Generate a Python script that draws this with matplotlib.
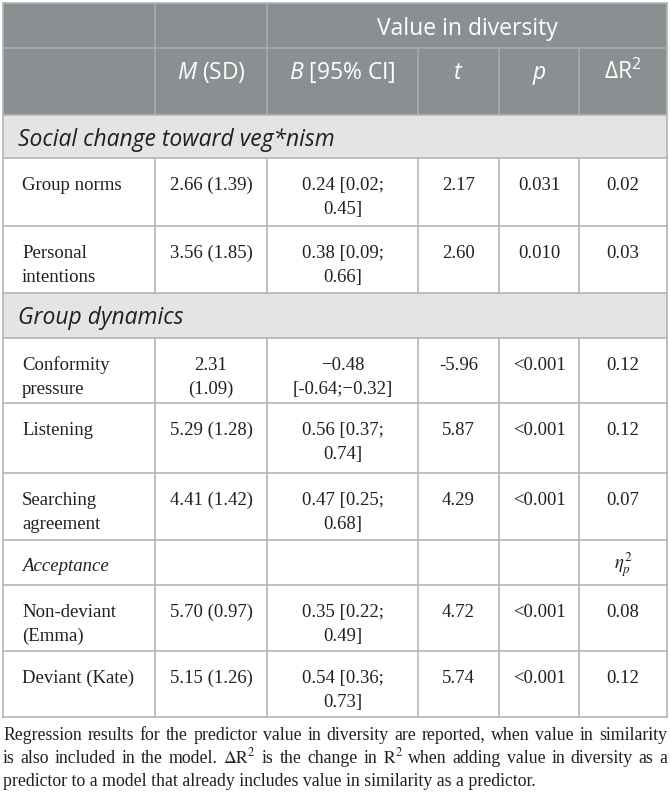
import matplotlib.pyplot as plt
from matplotlib.patches import Rectangle

plt.rcParams['mathtext.fontset'] = 'custom'
plt.rcParams['mathtext.rm'] = 'Open Sans'
plt.rcParams['mathtext.it'] = 'Open Sans:italic'

# table content
top_header = "Value in diversity"
col_heads = ["", "$M$ (SD)", "$B$ [95% CI]", "$t$", "$p$", r"Δ$\mathrm{R}^2$"]
sections = ["Social change toward veg*nism", "Group dynamics"]
sub_heading = "Acceptance"
sub_stat = r"$\eta_p^2$"

labels = [["Group norms"], ["Personal", "intentions"], ["Conformity", "pressure"],
          ["Listening"], ["Searching", "agreement"], ["Non-deviant", "(Emma)"],
          ["Deviant (Kate)"]]
means = [["2.66 (1.39)"], ["3.56 (1.85)"], ["2.31", "(1.09)"], ["5.29 (1.28)"],
         ["4.41 (1.42)"], ["5.70 (0.97)"], ["5.15 (1.26)"]]
b_ci = [["0.24 [0.02;", "0.45]"], ["0.38 [0.09;", "0.66]"], ["\u22120.48", "[-0.64;\u22120.32]"],
        ["0.56 [0.37;", "0.74]"], ["0.47 [0.25;", "0.68]"], ["0.35 [0.22;", "0.49]"],
        ["0.54 [0.36;", "0.73]"]]
t_vals = ["2.17", "2.60", "-5.96", "5.87", "4.29", "4.72", "5.74"]
p_vals = ["0.031", "0.010", "<0.001", "<0.001", "<0.001", "<0.001", "<0.001"]
dr2_vals = ["0.02", "0.03", "0.12", "0.12", "0.07", "0.08", "0.12"]

footnote = [
    "Regression results for the predictor value in diversity are reported, when value in similarity",
    r"is also included in the model. $\Delta\mathrm{R}^2$ is the change in $\mathrm{R}^2$ when adding value in diversity as a",
    "predictor to a model that already includes value in similarity as a predictor.",
]

# row order of the body: section, data row, sub heading
layout = [("sec", 0), ("row", 0), ("row", 1), ("sec", 1), ("row", 2), ("row", 3),
          ("row", 4), ("sub", None), ("row", 5), ("row", 6)]

col_x = [3, 155, 267, 418, 499, 579, 667]
row_y = [3, 48, 115, 158, 226, 293, 338, 403, 473, 540, 585, 651, 717]

head_bg = "#8a8f91"
head_line = "#a9adaf"
sec_bg = "#e3e4e4"
grid = "#b5b5b5"
ink = "#231f20"

fig = plt.figure(figsize=(6.7, 7.97), dpi=100)
ax = fig.add_axes([0, 0, 1, 1])
ax.set_xlim(0, 670)
ax.set_ylim(797, 0)
ax.axis("off")

serif = "Liberation Serif"
sans = "Open Sans"
body_fs = 13.5
head_fs = 16.5
foot_fs = 12.8

# header block
ax.add_patch(Rectangle((col_x[0], row_y[0]), col_x[-1] - col_x[0], row_y[2] - row_y[0],
                       facecolor=head_bg, edgecolor="none", zorder=0))
ax.plot([col_x[0], col_x[-1]], [row_y[1], row_y[1]], color=head_line, lw=1.2)
for x in col_x[1:3]:
    ax.plot([x, x], [row_y[0], row_y[2]], color=head_line, lw=1.2)
for x in col_x[3:6]:
    ax.plot([x, x], [row_y[1], row_y[2]], color=head_line, lw=1.2)
ax.text((col_x[2] + col_x[-1]) / 2, row_y[0] + 32, top_header, color="white",
        fontsize=head_fs, family=sans, ha="center", va="baseline")
for i, h in enumerate(col_heads):
    if h:
        ax.text((col_x[i] + col_x[i + 1]) / 2, row_y[1] + 31, h, color="white",
                fontsize=head_fs, family=sans, ha="center", va="baseline")

# body rows
for k, (kind, idx) in enumerate(layout):
    top = row_y[k + 2]
    bot = row_y[k + 3]
    if kind == "sec":
        ax.add_patch(Rectangle((col_x[0], top), col_x[-1] - col_x[0], bot - top,
                               facecolor=sec_bg, edgecolor="none", zorder=0))
        ax.text(col_x[0] + 15, top + 31, sections[idx], color=ink, fontsize=head_fs,
                family=sans, style="italic", va="baseline")
        continue
    for x in col_x[1:-1]:
        ax.plot([x, x], [top, bot], color=grid, lw=1.2)
    if kind == "sub":
        ax.text(col_x[0] + 19, top + 31, sub_heading, color=ink, fontsize=body_fs,
                family=serif, style="italic", va="baseline")
        ax.text((col_x[5] + col_x[6]) / 2, top + 29, sub_stat, color=ink, fontsize=body_fs,
                math_fontfamily="stix", ha="center", va="baseline")
        continue
    cells = [labels[idx], means[idx], b_ci[idx], [t_vals[idx]], [p_vals[idx]], [dr2_vals[idx]]]
    for c, lines in enumerate(cells):
        for j, line in enumerate(lines):
            y = top + 32 + 24 * j
            if c == 0:
                ax.text(col_x[0] + 19, y, line, color=ink, fontsize=body_fs, family=serif,
                        va="baseline")
            else:
                ax.text((col_x[c] + col_x[c + 1]) / 2, y, line, color=ink, fontsize=body_fs,
                        family=serif, ha="center", va="baseline")

for y in row_y[2:]:
    ax.plot([col_x[0], col_x[-1]], [y, y], color=grid, lw=1.2)
ax.plot([col_x[0], col_x[0]], [row_y[0], row_y[-1]], color=grid, lw=1.2)
ax.plot([col_x[-1], col_x[-1]], [row_y[0], row_y[-1]], color=grid, lw=1.2)
ax.plot([col_x[0], col_x[-1]], [row_y[0], row_y[0]], color=grid, lw=1.2)

# footnote, justified like the journal page
renderer = fig.canvas.get_renderer()
foot_y = [740, 763, 786]
for n, (line, y) in enumerate(zip(footnote, foot_y)):
    if n == len(footnote) - 1:
        ax.text(col_x[0], y, line, color=ink, fontsize=foot_fs, family=serif, va="baseline")
        continue
    words = line.split(" ")
    objs = [ax.text(0, y, w, color=ink, fontsize=foot_fs, family=serif, va="baseline",
                    math_fontfamily="stix") for w in words]
    widths = [o.get_window_extent(renderer).width for o in objs]
    gap = (col_x[-1] - col_x[0] - sum(widths)) / (len(words) - 1)
    x = col_x[0]
    for o, w in zip(objs, widths):
        o.set_x(x)
        x += w + gap

fig.savefig("out.png", dpi=100)
